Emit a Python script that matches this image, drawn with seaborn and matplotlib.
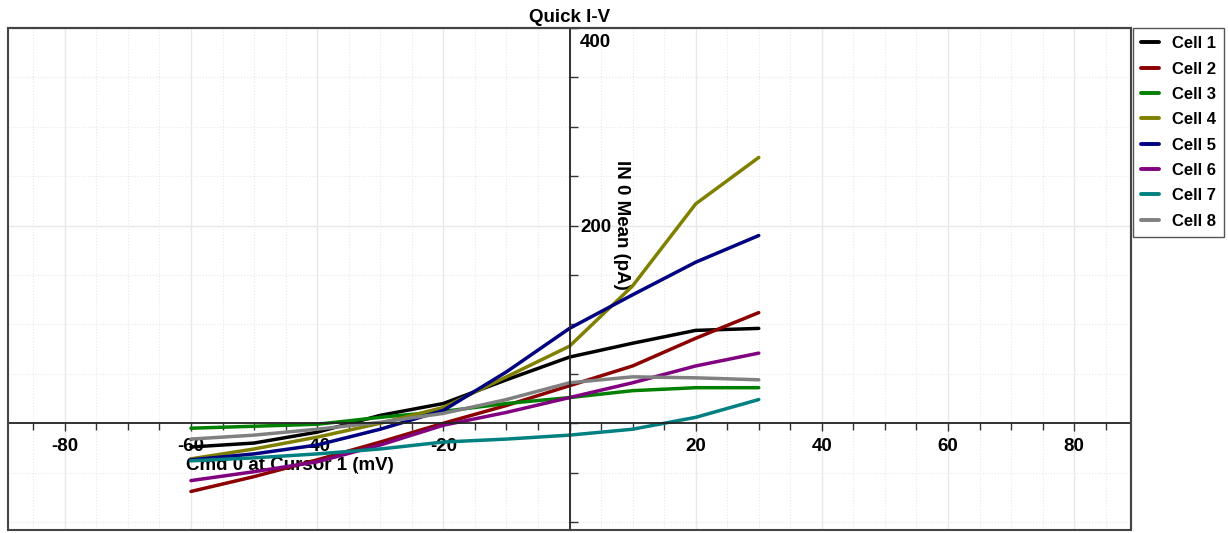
import matplotlib
matplotlib.use('Agg')
import matplotlib.pyplot as plt
import seaborn as sns
import pandas as pd
from matplotlib.ticker import FixedLocator, MultipleLocator
from matplotlib.patches import Rectangle
from matplotlib.lines import Line2D
from matplotlib.transforms import offset_copy

# ---------------- data ----------------
voltages = [-60, -50, -40, -30, -20, -10, 0, 10, 20, 30]
cell1 = [-24, -20, -9, 8, 20, 44, 67, 81, 94, 96]
cell2 = [-69, -54, -37, -19, 0, 18, 38, 58, 86, 112]
cell3 = [-5, -3, -1, 6, 12, 20, 26, 33, 36, 36]
cell4 = [-36, -26, -14, 0, 16, 47, 78, 139, 222, 269]
cell5 = [-37, -31, -22, -6, 13, 52, 96, 130, 163, 190]
cell6 = [-58, -49, -39, -22, -2, 11, 26, 41, 58, 71]
cell7 = [-38, -35, -31, -26, -19, -16, -12, -6, 6, 24]
cell8 = [-16, -12, -6, 1, 10, 24, 41, 47, 46, 44]

cell_names = ['Cell 1', 'Cell 2', 'Cell 3', 'Cell 4', 'Cell 5', 'Cell 6', 'Cell 7', 'Cell 8']
cell_values = [cell1, cell2, cell3, cell4, cell5, cell6, cell7, cell8]
cell_colors = ['#000000', '#8b0000', '#008000', '#808000', '#000080', '#800080', '#008080', '#808080']

x_tick_values = [-80, -60, -40, -20, 0, 20, 40, 60, 80]
x_tick_labels = ['-80', '-60', '-40', '-20', '', '20', '40', '60', '80']
y_tick_values = [200, 400]
y_tick_labels = ['200', '400']

rows = []
for name, vals in zip(cell_names, cell_values):
    for v, i in zip(voltages, vals):
        rows.append({'V': v, 'I': i, 'Cell': name})
df = pd.DataFrame(rows)
palette = dict(zip(cell_names, cell_colors))

# ---------------- style ----------------
sns.set_style('white')
plt.rcParams['font.family'] = ['Liberation Sans', 'DejaVu Sans']
plt.rcParams['font.weight'] = 'bold'
plt.rcParams['text.color'] = 'black'
plt.rcParams['axes.labelcolor'] = 'black'
plt.rcParams['xtick.color'] = 'black'
plt.rcParams['ytick.color'] = 'black'

FS = 13.5

fig = plt.figure(figsize=(12.28, 5.33), dpi=100)
ax = fig.add_axes([8 / 1228, 3 / 533, 1123 / 1228, 502 / 533])

sns.lineplot(data=df, x='V', y='I', hue='Cell', hue_order=cell_names, palette=palette,
             linewidth=2.5, estimator=None, sort=False, legend=False, ax=ax)

ax.set_xlim(-89, 89)
ax.set_ylim(-108, 400)

# axes crossing at zero
ax.spines['left'].set_position(('data', 0))
ax.spines['bottom'].set_position(('data', 0))
for s in ['left', 'bottom']:
    ax.spines[s].set_color('#222222')
    ax.spines[s].set_linewidth(1.3)
for s in ['top', 'right']:
    ax.spines[s].set_color('#444444')
    ax.spines[s].set_linewidth(1.5)
ax.add_patch(Rectangle((0, 0), 1, 1, transform=ax.transAxes, fill=False,
                       ec='#444444', lw=1.5, clip_on=False, zorder=5))

# ticks
ax.xaxis.set_major_locator(FixedLocator(x_tick_values))
ax.xaxis.set_minor_locator(MultipleLocator(5))
ax.set_xticklabels(x_tick_labels)
ax.tick_params(axis='x', which='both', direction='out', bottom=True, top=False,
               color='#333333', width=1, pad=4.5, labelsize=FS)
ax.tick_params(axis='x', which='major', length=6)
ax.tick_params(axis='x', which='minor', length=5)

ax.yaxis.set_major_locator(FixedLocator(y_tick_values))
ax.yaxis.set_minor_locator(MultipleLocator(50))
ax.set_yticklabels(y_tick_labels)
ax.tick_params(axis='y', which='both', direction='in', left=True, right=False,
               color='#333333', width=1, length=6, pad=-7.5, labelsize=FS)
for lbl in ax.get_yticklabels():
    lbl.set_horizontalalignment('left')
top_lbl = ax.get_yticklabels()[-1]
top_lbl.set_verticalalignment('top')
top_lbl.set_transform(offset_copy(top_lbl.get_transform(), fig=fig, x=0, y=-4, units='points'))

# grid
ax.set_axisbelow(True)
ax.grid(which='major', color='#e8e8e8', linewidth=1.0, linestyle='-')
ax.grid(which='minor', color='#e8e8e8', linewidth=0.8, linestyle=':')

# labels
ax.set_xlabel('Cmd 0 at Cursor 1 (mV)', fontsize=FS, fontweight='bold')
ax.xaxis.label.set_verticalalignment('center')
ax.xaxis.set_label_coords(0.251, 0.1275)
ax.set_ylabel('IN 0 Mean (pA)', fontsize=FS, fontweight='bold', rotation=270, va='center')
ax.yaxis.set_label_coords(0.546, 0.6076)
ax.set_title('Quick I-V', fontsize=FS, fontweight='bold', pad=4)

# legend
handles = [Line2D([0], [0], color=c, lw=2.8) for c in cell_colors]
leg = ax.legend(handles, cell_names, loc='upper left', bbox_to_anchor=(1.0015, 1.0),
                borderaxespad=0, frameon=True, fancybox=False, framealpha=1,
                edgecolor='#555555', prop={'weight': 'bold', 'size': 12},
                handlelength=1.1, handletextpad=0.75, labelspacing=0.62, borderpad=0.5)
leg.get_frame().set_linewidth(1.0)

fig.savefig('out.png', dpi=100)
